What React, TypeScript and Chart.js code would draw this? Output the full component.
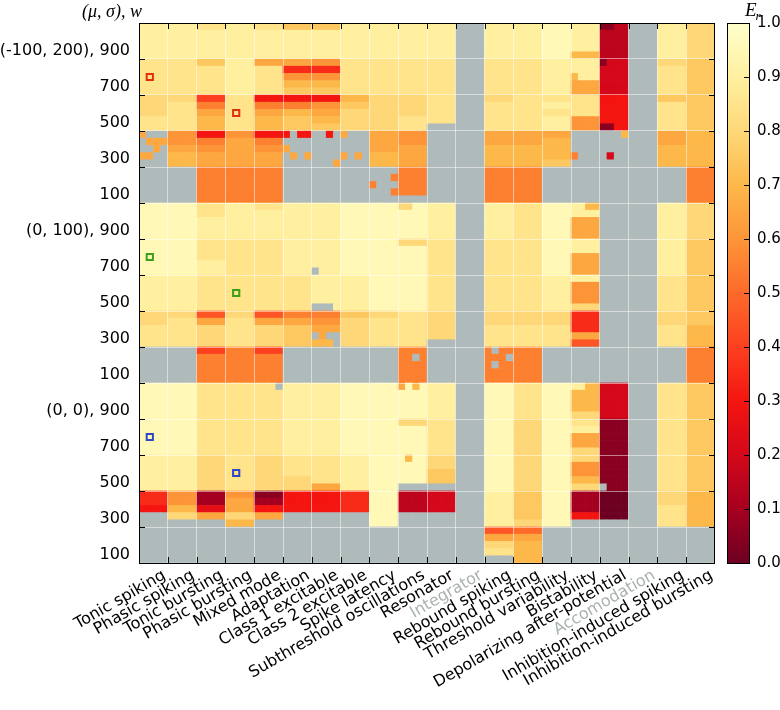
import React, { useEffect, useRef } from "react";
import { Chart, registerables } from "chart.js";

Chart.register(...registerables);

// ---------------- data ----------------
const behaviors = [
  "Tonic spiking", "Phasic spiking", "Tonic bursting", "Phasic bursting", "Mixed mode",
  "Adaptation", "Class 1 excitable", "Class 2 excitable", "Spike latency",
  "Subthreshold oscillations", "Resonator", "Integrator", "Rebound spiking",
  "Rebound bursting", "Threshold variability", "Bistability",
  "Depolarizing after-potential", "Accomodation", "Inhibition-induced spiking",
  "Inhibition-induced bursting",
];
const fadedBehaviors = ["Integrator", "Accomodation"];
const groupLabels = ["(-100, 200)", "(0, 100)", "(0, 0)"];
const wLabels = ["900", "700", "500", "300", "100"];
const colorbarTicks = [0, 0.1, 0.2, 0.3, 0.4, 0.5, 0.6, 0.7, 0.8, 0.9, 1.0];

// E_r levels: a=0.00, b=0.05 ... k=0.50 ... u=1.00 ; "-" = no value (grey)
// per behaviour: 3 groups x (w = 900,700,500,300,100) x 5 sub-rows, top to bottom
const tonicSpiking    = "sssss rrrrr qqqrr ----- ----- | ttttt ttttt sssss qqrrr ----- | ttttt ttttt sssss hhg-- -----";
const phasicSpiking   = "sssss rrrrr qrrrr mmnoo ----- | ttttt ttttt sssss qrrrr ----- | ttttt ttttt sssss mmoq- -----";
const tonicBursting   = "rssss prrrr ilnoo glmnn lllll | rrsss rrrss rrrrr jnqqq illll | rrrrr rrrrr qqqqq ccfn- -----";
const phasicBursting  = "sssss sssss rrrrr mnnnn lllll | sssss rrrrr rrrrr qrrrr lllll | rrrrr rrrrr rrrrr mnnqo -----";
const mixedMode       = "rssss nrrrr glnoo glmnn lllll | rssss rrrrr rrrrr jnqqq illll | rrrrr rrrrr qqqqq bcgn- -----";
const adaptation      = "pssss nhmop glopp ----- ----- | sssss sssss rrrrr lnppp ----- | sssss sssss rrrqq ggg-- -----";
const class1Excitable = "pssss mhmop gmnop ----- ----- | sssss sssss sssss lmnno ----- | sssss sssss rrrrn ggg-- -----";
const class2Excitable = "sssss rrrrr opqqq ----- ----- | ttttt ttttt sssss pqqqq ----- | ttttt ttttt sssss hhh-- -----";
const spikeLatency    = "sssss rrrrr qqqqq nnnoo ----- | ttttt ttttt ttttt qrrrr ----- | ttttt ttttt ttttt ttttt -----";
const subthreshold    = "sssss rrrrr qqqrr mmnnn llll- | ttttt qtttt ttttt rrrrr lllll | ttttt qtttt tttt- ddd-- -----";
const resonator       = "sssss rrrrr rrrr- ----- ----- | sssss rrrrr rrrrr qqqq- ----- | sssss rrrrr qqpp- eee-- -----";
const integrator      = "----- ----- ----- ----- ----- | ----- ----- ----- ----- ----- | ----- ----- ----- ----- -----";
const reboundSpiking  = "sssss rrrrr qrrrr nnooo lllll | sssss rrrrr rrrrr qqrrr lllll | ttttt ttttt ttttt sssss jnqr-";
const reboundBursting = "sssss rrrrr rrrrr nnooo lllll | rrrrr rrrrr rrrrr qqrrr lllll | rrrrr qqqqq qqqqq ppppq knooo";
const thresholdVar    = "ttttt sssss rsrss nooop ----- | ttttt ttttt sssss qqrrr ----- | ttttt ttttt ttttt ttttt -----";
const bistability     = "sssso sssnn rrrmm ----- ----- | ssnnn ssnnn smmmq hhhnj ----- | soooq rsnnq qmmoq cccg- -----";
const depolarizing    = "ddddd eeeee ggggg ----- ----- | ----- ----- ----- ----- ----- | eeeee bbbbb bbbbb aaaa- -----";
const accomodation    = "----- ----- ----- ----- ----- | ----- ----- ----- ----- ----- | ----- ----- ----- ----- -----";
const inhibSpiking    = "sssss qrrrr prrrr nnooo ----- | sssss sssss rrrrr qqrrr ----- | rrrrr rrrrr rrrrr qqrrr -----";
const inhibBursting   = "qqqqq ppppp ppppp ooooo lllll | qqqqq ppppp ppppp ppooo lllll | ppppp ppppp ppppp ooooo -----";

const behaviorLevels = [
  tonicSpiking, phasicSpiking, tonicBursting, phasicBursting, mixedMode, adaptation,
  class1Excitable, class2Excitable, spikeLatency, subthreshold, resonator, integrator,
  reboundSpiking, reboundBursting, thresholdVar, bistability, depolarizing, accomodation,
  inhibSpiking, inhibBursting,
];

// single sub-cells that differ: [behaviour, sub-column 0..3, row 0..74 from top, level]
const cellPatches: [number, number, number, string][] = [
  [0, 0, 15, "n"], [0, 1, 16, "n"], [0, 2, 16, "n"], [0, 3, 16, "n"], [0, 2, 17, "n"], [0, 0, 18, "n"], [0, 1, 18, "n"],
  [5, 0, 15, "g"], [5, 2, 15, "g"], [5, 3, 15, "g"], [5, 0, 17, "n"], [5, 1, 18, "n"], [5, 3, 18, "n"],
  [6, 2, 15, "g"], [6, 3, 19, "n"],
  [7, 0, 15, "n"], [7, 0, 18, "n"], [7, 2, 18, "n"],
  [8, 3, 21, "l"], [8, 0, 22, "l"], [8, 3, 23, "l"],
  [15, 0, 7, "o"], [15, 0, 18, "l"],
  [16, 0, 0, "b"], [16, 1, 0, "b"], [16, 0, 5, "b"], [16, 0, 14, "b"], [16, 1, 14, "b"], [16, 3, 15, "o"], [16, 1, 18, "e"],
  [6, 0, 34, "-"], [6, 0, 39, "-"], [6, 1, 39, "-"], [6, 2, 39, "-"], [6, 0, 43, "-"], [6, 2, 43, "-"], [6, 3, 43, "-"], [6, 3, 44, "-"],
  [9, 0, 25, "q"], [9, 1, 25, "q"], [9, 2, 46, "-"],
  [12, 1, 45, "-"], [12, 3, 46, "-"], [12, 1, 47, "-"],
  [15, 2, 25, "o"], [15, 3, 25, "o"],
  [4, 3, 50, "-"],
  [9, 0, 50, "n"], [9, 2, 50, "o"], [9, 1, 60, "o"],
  [15, 2, 50, "o"], [15, 3, 50, "o"],
  [16, 0, 64, "-"],
];

// highlighted cells: [behaviour, sub-column, row]
const markerCells: [number, number, number][] = [
  [0, 1, 7], [3, 1, 12], [0, 1, 32], [3, 1, 37], [0, 1, 57], [3, 1, 62],
];
const markerColors = ["#e2300f", "#e2300f", "#3c9f1c", "#3c9f1c", "#2d48c4", "#2d48c4"];

// ---------------- colour map ----------------
const cmapStops: [number, string][] = [
  [0.0, "#6e0022"], [0.1, "#a60020"], [0.2, "#d4081a"], [0.3, "#f41510"],
  [0.4, "#fc4020"], [0.5, "#fd6a2a"], [0.6, "#fd9538"], [0.7, "#fdb84a"],
  [0.8, "#fed878"], [0.9, "#fff0a0"], [1.0, "#ffffcc"],
];
const nanColor = "#afbaba";

function hexRgb(h: string) {
  return [parseInt(h.slice(1, 3), 16), parseInt(h.slice(3, 5), 16), parseInt(h.slice(5, 7), 16)];
}
function cmap(v: number | null) {
  if (v === null || v === undefined) return nanColor;
  for (let i = 1; i < cmapStops.length; i++) {
    const [v1, c1] = cmapStops[i];
    if (v <= v1 + 1e-9) {
      const [v0, c0] = cmapStops[i - 1];
      const t = (v - v0) / (v1 - v0);
      const a = hexRgb(c0), b = hexRgb(c1);
      const m = a.map((x, k) => Math.round(x + (b[k] - x) * t));
      return `rgb(${m[0]},${m[1]},${m[2]})`;
    }
  }
  return cmapStops[cmapStops.length - 1][1];
}

const SUB_COLS = 4;
const TOTAL_ROWS = 75;

function buildCells() {
  const patch = new Map<string, string>();
  cellPatches.forEach(([c, s, r, ch]) => patch.set(`${c},${s},${r}`, ch));
  const cells: { x: number; y: [number, number]; v: number | null }[] = [];
  behaviorLevels.forEach((str, c) => {
    const codes = str.replace(/[^a-u-]/g, "");
    for (let r = 0; r < TOTAL_ROWS; r++) {
      for (let s = 0; s < SUB_COLS; s++) {
        const ch = patch.get(`${c},${s},${r}`) ?? codes[r];
        const v = ch === "-" || ch === undefined ? null : (ch.charCodeAt(0) - 97) * 0.05;
        cells.push({ x: c + (s + 0.5) / SUB_COLS, y: [TOTAL_ROWS - r - 1, TOTAL_ROWS - r], v });
      }
    }
  });
  return cells;
}

function yTickLabel(v: number) {
  if (v >= TOTAL_ROWS) return "";
  const g = 2 - Math.floor(v / 25);
  const k = (v % 25) / 5;
  const w = wLabels[4 - k];
  return k === 4 ? `${groupLabels[g]}, ${w}` : w;
}

const zeroPad = (s: any) => { s.paddingLeft = 0; s.paddingRight = 0; s.paddingTop = 0; s.paddingBottom = 0; };
const gridColor = "rgba(255,255,255,0.5)";

const decorPlugin = {
  id: "decor",
  afterDraw(chart: any) {
    const { ctx, chartArea: a, scales } = chart;
    const xs = scales.xs, y = scales.y, cb = scales.cb;
    ctx.save();
    ctx.strokeStyle = "#000";
    ctx.lineWidth = 1;
    const line = (x1: number, y1: number, x2: number, y2: number) => {
      ctx.beginPath(); ctx.moveTo(x1, y1); ctx.lineTo(x2, y2); ctx.stroke();
    };
    for (let i = 1; i < behaviors.length; i++) {
      const px = Math.round(xs.getPixelForValue(i)) + 0.5;
      line(px, a.bottom, px, a.bottom - 6);
      line(px, a.top, px, a.top + 6);
    }
    for (let v = 5; v < TOTAL_ROWS; v += 5) {
      const py = Math.round(y.getPixelForValue(v)) + 0.5;
      line(a.left, py, a.left + 6, py);
      line(a.right, py, a.right - 6, py);
    }
    ctx.strokeRect(Math.round(a.left) + 0.5, Math.round(a.top) + 0.5, Math.round(a.right - a.left) - 1, Math.round(a.bottom - a.top));

    // colour bar
    const x0 = Math.round(cb.left) + 12, w = 23;
    const yTop = cb.getPixelForValue(1), yBot = cb.getPixelForValue(0);
    const grad = ctx.createLinearGradient(0, yBot, 0, yTop);
    cmapStops.forEach(([v, c]) => grad.addColorStop(v, c));
    ctx.fillStyle = grad;
    ctx.fillRect(x0, yTop, w, yBot - yTop);
    ctx.strokeRect(x0 + 0.5, Math.round(yTop) + 0.5, w - 1, Math.round(yBot - yTop));
    colorbarTicks.forEach((v) => {
      if (v > 0 && v < 1) {
        const py = Math.round(cb.getPixelForValue(v)) + 0.5;
        line(x0 + w - 6, py, x0 + w, py);
      }
    });

    // titles
    ctx.fillStyle = "#000";
    ctx.textBaseline = "alphabetic";
    ctx.textAlign = "left";
    ctx.font = "italic 18px 'Liberation Serif'";
    ctx.fillText("(μ, σ), w", 82, 17);
    ctx.font = "italic 19px 'Liberation Serif'";
    ctx.fillText("E", 745, 16);
    const ew = ctx.measureText("E").width;
    ctx.font = "italic 13px 'Liberation Serif'";
    ctx.fillText("r", 745 + ew - 1, 20);
    ctx.restore();
  },
};

export default function App() {
  const ref = useRef<HTMLCanvasElement>(null);
  useEffect(() => {
    if (!ref.current) return;
    Chart.defaults.font.family = "'DejaVu Sans', sans-serif";
    Chart.defaults.font.size = 16;
    const cells = buildCells();
    const markers = markerCells.map(([c, s, r]) => ({ x: c + (s + 0.5) / SUB_COLS, y: TOTAL_ROWS - r - 0.5 }));
    const chart = new Chart(ref.current, {
      type: "bar",
      data: {
        labels: behaviors,
        datasets: [
          {
            type: "scatter",
            data: markers,
            xAxisID: "xs",
            yAxisID: "y",
            pointStyle: "rect",
            pointRadius: 4.4,
            pointBorderWidth: 2,
            pointBorderColor: markerColors,
            pointBackgroundColor: "rgba(0,0,0,0)",
            order: 0,
          } as any,
          {
            type: "bar",
            data: cells as any,
            xAxisID: "xs",
            yAxisID: "y",
            backgroundColor: (ctx: any) => cmap(ctx.raw ? ctx.raw.v : null),
            borderWidth: 0,
            barPercentage: 1,
            categoryPercentage: 1,
            order: 1,
          } as any,
        ],
      },
      options: {
        responsive: false,
        animation: false,
        events: [],
        devicePixelRatio: 1,
        layout: { padding: { left: 0, right: 0, top: 23, bottom: 0 }, autoPadding: false },
        plugins: { legend: { display: false }, tooltip: { enabled: false } },
        scales: {
          x: {
            type: "category",
            position: "bottom",
            offset: true,
            grid: { offset: true, color: gridColor, lineWidth: 1, drawTicks: false, z: 1 },
            border: { display: false },
            ticks: {
              autoSkip: false,
              maxRotation: 30,
              minRotation: 30,
              padding: 3,
              labelOffset: 11,
              font: { size: 16 },
              color: (ctx: any) => (fadedBehaviors.includes(behaviors[ctx.index]) ? "#a9b2b2" : "#000"),
            },
            afterFit: (s: any) => { s.height = 147; zeroPad(s); },
          },
          xs: { type: "linear", display: false, offset: false, grid: { offset: false }, min: 0, max: behaviors.length },
          y: {
            type: "linear",
            position: "left",
            min: 0,
            max: TOTAL_ROWS,
            grid: { color: gridColor, lineWidth: 1, drawTicks: false, z: 1 },
            border: { display: false },
            ticks: {
              stepSize: 5,
              autoSkip: false,
              padding: 9,
              labelOffset: -8,
              color: "#000",
              font: { size: 16 },
              callback: (v: any) => yTickLabel(Number(v)),
            },
            afterFit: (s: any) => { s.width = 139; zeroPad(s); },
          },
          cb: {
            type: "linear",
            position: "right",
            min: 0,
            max: 1,
            grid: { display: false, drawTicks: false },
            border: { display: false },
            afterBuildTicks: (s: any) => { s.ticks = colorbarTicks.map((v) => ({ value: v })); },
            ticks: {
              padding: 42,
              color: "#000",
              font: { size: 15 },
              callback: (v: any) => Number(v).toFixed(1),
            },
            afterFit: (s: any) => { s.width = 65; zeroPad(s); },
          },
        },
      } as any,
      plugins: [decorPlugin],
    });
    return () => chart.destroy();
  }, []);
  return (
    <div style={{ position: "absolute", left: 0, top: 0, width: 780, height: 710 }}>
      <canvas ref={ref} width={780} height={710} style={{ display: "block", width: 780, height: 710 }} />
    </div>
  );
}
